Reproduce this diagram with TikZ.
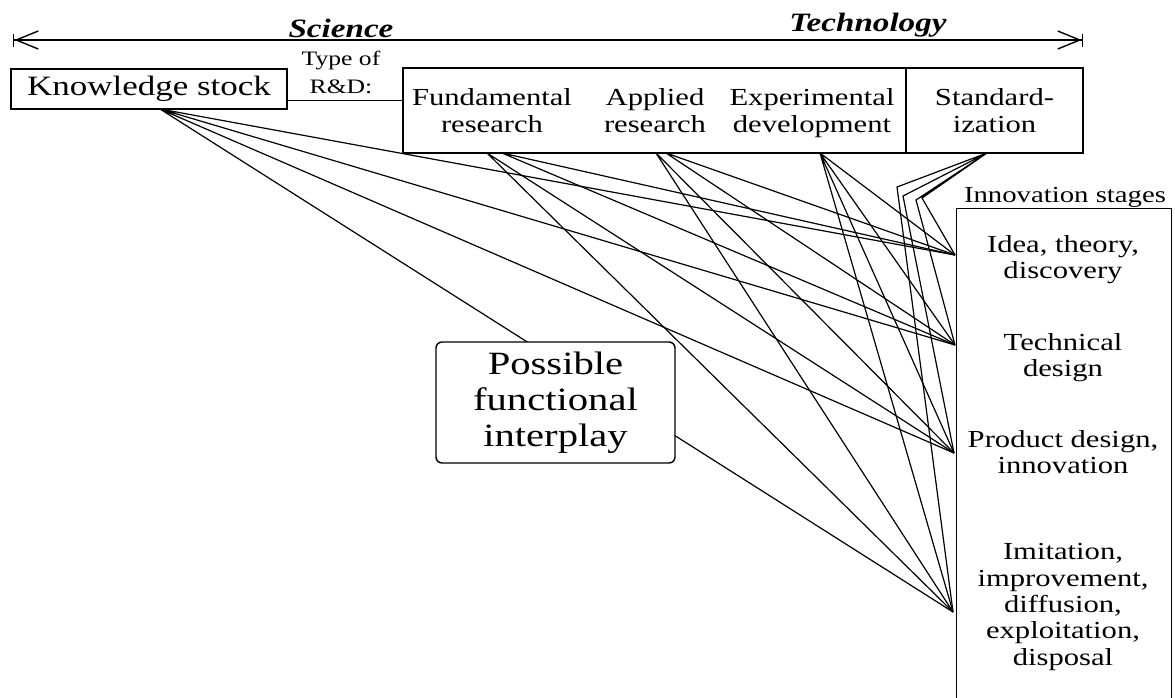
\documentclass[tikz,border=0pt]{standalone}
\usepackage{fontspec}
\setmainfont{Liberation Serif}[FakeStretch=1.25]
\usetikzlibrary{arrows.meta}

\begin{document}
\begin{tikzpicture}[x=1pt, y=-1pt,
  plainbox/.style={draw, line width=1.4pt, inner sep=0pt},
  rdtext/.style={align=center, inner sep=0pt, font=\fontsize{24.5}{27}\selectfont},
  stagetext/.style={align=center, inner sep=0pt, font=\fontsize{24.5}{26.3}\selectfont},
  heading/.style={font=\fontsize{26.5}{30}\selectfont\bfseries\itshape},
  link/.style={line width=1.2pt, black},
  axis/.style={line width=1.4pt,
    {Bar[width=13pt]Straight Barb[length=22pt,width=18pt]}-{Straight Barb[length=22pt,width=18pt]Bar[width=13pt]}},
]
  \useasboundingbox (0,0) rectangle (1175,697);

  % science -- technology axis
  \node[heading] (sci) at (341,28) {Science};
  \node[heading] (techn) at (868,25) {Technology};
  \coordinate (axl) at (13,40);
  \coordinate (axr) at (1083,40);
  \draw[axis] (axl) -- (axr);

  % knowledge stock and type of R&D
  \node[plainbox, minimum width=276pt, minimum height=40pt,
    font=\fontsize{28}{30}\selectfont] (ks) at (149,89) {Knowledge stock};
  \node[align=center, font=\fontsize{20.5}{28}\selectfont] (type) at (341,72) {Type of\\R\&D:};
  \node[plainbox, minimum width=503pt, minimum height=85pt] (rd) at (654.5,110.5) {};
  \node[plainbox, rdtext, minimum width=177pt, minimum height=85pt] (std) at (994.5,110.5) {Standard-\\ization};
  \node[rdtext] (fund) at (492,110.5) {Fundamental\\research};
  \node[rdtext] (appl) at (655,110.5) {Applied\\research};
  \node[rdtext] (expd) at (812,112.8) {Experimental\\development};
  \coordinate (rdlink) at (0,100);
  \draw[line width=1pt] (ks.east |- rdlink) -- (rd.west |- rdlink);

  % innovation stages
  \node[font=\fontsize{23}{26}\selectfont] (stlabel) at (1065,197.5) {Innovation stages};
  \node[plainbox, anchor=north west, minimum width=215pt, minimum height=492pt] (stages) at (956,208) {};
  \node[stagetext] (idea) at (1063,259.4) {Idea, theory,\\discovery};
  \node[stagetext] (tdes) at (1063,357.4) {Technical\\design};
  \node[stagetext] (pdes) at (1063,451.8) {Product design,\\innovation};
  \node[stagetext] (imit) at (1063,607) {Imitation,\\improvement,\\diffusion,\\exploitation,\\disposal};

  % end points of the links
  \coordinate (ks-o) at (160,109);
  \coordinate (fund-o1) at (487,153);
  \coordinate (fund-o2) at (502,153);
  \coordinate (appl-o1) at (656,153);
  \coordinate (appl-o2) at (666,153);
  \coordinate (expd-o) at (820,153);
  \coordinate (std-o) at (987,153);
  \coordinate (k-idea) at (922,198);
  \coordinate (k-tdes) at (916,200);
  \coordinate (k-pdes) at (903,196);
  \coordinate (k-imit) at (897,187);
  \coordinate (in-idea) at (955,255);
  \coordinate (in-tdes) at (955,345);
  \coordinate (in-pdes) at (954,453);
  \coordinate (in-imit) at (953,612);

  \draw[link] (ks-o) -- (in-idea) (ks-o) -- (in-tdes) (ks-o) -- (in-pdes) (ks-o) -- (in-imit);
  \draw[link] (fund-o2) -- (in-idea) (fund-o2) -- (in-tdes) (fund-o1) -- (in-pdes) (fund-o1) -- (in-imit);
  \draw[link] (appl-o2) -- (in-idea) (appl-o2) -- (in-tdes) (appl-o1) -- (in-pdes) (appl-o1) -- (in-imit);
  \draw[link] (expd-o) -- (in-idea) (expd-o) -- (in-tdes) (expd-o) -- (in-pdes) (expd-o) -- (in-imit);
  \draw[link] (std-o) -- (k-idea) -- (in-idea) (std-o) -- (k-tdes) -- (in-tdes)
    (std-o) -- (k-pdes) -- (in-pdes) (std-o) -- (k-imit) -- (in-imit);

  \node[plainbox, rounded corners=6pt, fill=white, minimum width=239pt, minimum height=121pt,
    align=center, font=\fontsize{32.5}{36}\selectfont] (play) at (555.5,402.5) {Possible\\functional\\interplay};
\end{tikzpicture}
\end{document}
